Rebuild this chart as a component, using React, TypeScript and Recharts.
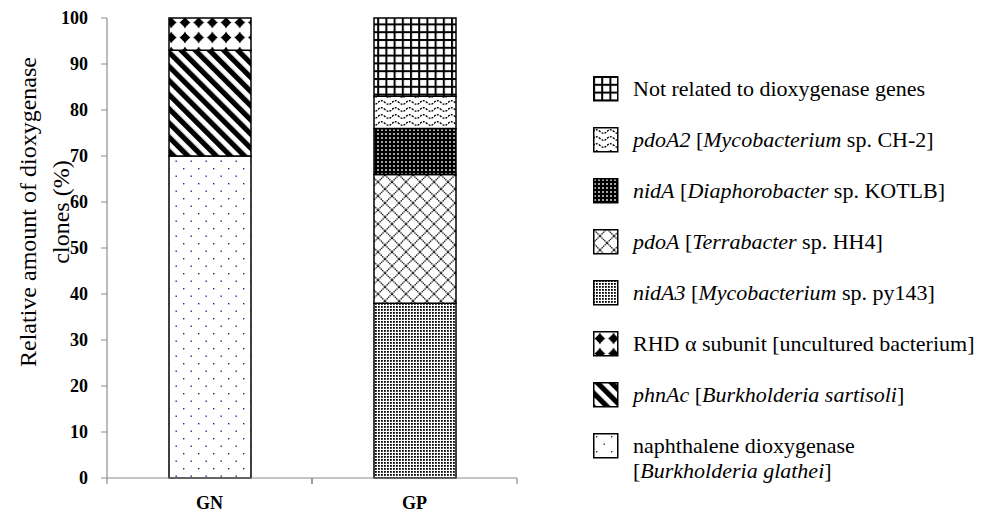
import { BarChart, Bar, XAxis, YAxis, Legend } from "recharts";

// Stacked share of dioxygenase clones in the GN and GP libraries (%)
const groups = ["GN", "GP"];
const naphthalene = [70, 0];
const phnAc = [23, 0];
const rhd = [7, 0];
const nidA3 = [0, 38];
const pdoA = [0, 28];
const nidA = [0, 10];
const pdoA2 = [0, 7];
const notRelated = [0, 17];

const yTicks = [0, 10, 20, 30, 40, 50, 60, 70, 80, 90, 100];

// bottom-up stacking order; "_" toggles italics, "\n" breaks a line
const seriesKeys = ["naphthalene", "phnAc", "rhd", "nidA3", "pdoA", "nidA", "pdoA2", "notRelated"];
const seriesValues = [naphthalene, phnAc, rhd, nidA3, pdoA, nidA, pdoA2, notRelated];
const seriesLabels = [
  "naphthalene dioxygenase\n[_Burkholderia glathei_]",
  "_phnAc_ [_Burkholderia sartisoli_]",
  "RHD α subunit [uncultured bacterium]",
  "_nidA3_ [_Mycobacterium_ sp. py143]",
  "_pdoA_ [_Terrabacter_ sp. HH4]",
  "_nidA_ [_Diaphorobacter_ sp. KOTLB]",
  "_pdoA2_ [_Mycobacterium_ sp. CH-2]",
  "Not related to dioxygenase genes",
];

const data = groups.map((group, i) => {
  const row: Record<string, string | number> = { group };
  seriesKeys.forEach((k, j) => (row[k] = seriesValues[j][i]));
  return row;
});

const FONT = "'Times New Roman', 'Liberation Serif', serif";
const AXIS = "#8c8c8c";
const X_TICK_SIZE = 6;
const X_TICK_MARGIN = 12;

function Patterns() {
  return (
    <defs>
      <pattern id="p-naphthalene" width="15" height="15" patternUnits="userSpaceOnUse">
        <rect width="15" height="15" fill="#fff" />
        <rect x="3" y="3" width="1.4" height="1.4" fill="#1c2a86" />
        <rect x="10.5" y="10.5" width="1.4" height="1.4" fill="#1c2a86" />
      </pattern>
      <pattern id="p-phnAc" width="10" height="10" patternUnits="userSpaceOnUse" patternTransform="rotate(-45)">
        <rect width="10" height="10" fill="#fff" />
        <rect width="5.2" height="10" fill="#000" />
      </pattern>
      <pattern id="p-rhd" width="13.7" height="15" patternUnits="userSpaceOnUse">
        <rect width="13.7" height="15" fill="#fff" />
        <path d="M6.85 1.5 Q8.2 5.4 12.3 7.5 Q8.2 9.6 6.85 13.5 Q5.5 9.6 1.4 7.5 Q5.5 5.4 6.85 1.5 Z" fill="#000" />
        <circle cx="6.85" cy="7.5" r="3.6" fill="#000" />
      </pattern>
      <pattern id="p-nidA3" width="3" height="3" patternUnits="userSpaceOnUse">
        <rect width="3" height="3" fill="#fff" />
        <rect width="1.8" height="1.8" fill="#000" />
      </pattern>
      <pattern id="p-pdoA" width="14" height="14" patternUnits="userSpaceOnUse">
        <rect width="14" height="14" fill="#fff" />
        <path d="M0 0 L14 14 M14 0 L0 14" stroke="#222" strokeWidth="1.3" strokeDasharray="1.4 0.6" />
      </pattern>
      <pattern id="p-nidA" width="4" height="4" patternUnits="userSpaceOnUse">
        <rect width="4" height="4" fill="#000" />
        <rect x="1.2" y="1.2" width="1.6" height="1.6" fill="#fff" />
      </pattern>
      <pattern id="p-pdoA2" width="14" height="7" patternUnits="userSpaceOnUse">
        <rect width="14" height="7" fill="#fff" />
        <path d="M0 4.5 Q3.5 1 7 4.5 T14 4.5" fill="none" stroke="#000" strokeWidth="1.3" strokeDasharray="2 1.2" />
      </pattern>
      <pattern id="p-notRelated" width="8.2" height="7.8" patternUnits="userSpaceOnUse">
        <rect width="8.2" height="7.8" fill="#fff" />
        <rect width="2" height="7.8" fill="#000" />
        <rect width="8.2" height="2" fill="#000" />
      </pattern>
    </defs>
  );
}

// category label plus Excel-style tick marks on the band edges
function GroupTick(props: any) {
  const { x, y, payload } = props;
  const half = payload.offset ?? 0;
  const axisY = y - X_TICK_SIZE - X_TICK_MARGIN;
  return (
    <g>
      <line x1={x - half} x2={x - half} y1={axisY} y2={axisY + X_TICK_SIZE} stroke={AXIS} strokeWidth={1.2} />
      <line x1={x + half} x2={x + half} y1={axisY} y2={axisY + X_TICK_SIZE} stroke={AXIS} strokeWidth={1.2} />
      <text x={x} y={y} dy="0.71em" textAnchor="middle" fontFamily={FONT} fontSize={18} fontWeight="bold" fill="#000">
        {payload.value}
      </text>
    </g>
  );
}

function RichLine({ text }: { text: string }) {
  const parts = text.split("_");
  return (
    <div>
      {parts.map((p, i) =>
        i % 2 === 1 ? (
          <i key={i}>{p}</i>
        ) : (
          <span key={i}>{p}</span>
        )
      )}
    </div>
  );
}

function PatternLegend() {
  const order = seriesKeys.map((k, i) => ({ key: k, label: seriesLabels[i] })).reverse();
  return (
    <div style={{ fontFamily: FONT, fontSize: 22, color: "#000" }}>
      {order.map((item) => (
        <div key={item.key} style={{ display: "flex", alignItems: "flex-start", height: 51 }}>
          <svg width="26" height="26" style={{ flex: "none", marginRight: 14 }}>
            <rect x="0.75" y="0.75" width="24" height="24" fill={`url(#p-${item.key})`} stroke="#000" strokeWidth="1.5" />
          </svg>
          <div style={{ lineHeight: "25px", whiteSpace: "nowrap" }}>
            {item.label.split("\n").map((line, i) => (
              <RichLine key={i} text={line} />
            ))}
          </div>
        </div>
      ))}
    </div>
  );
}

function YLabel() {
  return (
    <g fontFamily={FONT} fontSize={24} fill="#000">
      <text x={28} y={212} transform="rotate(-90 28 212)" textAnchor="middle" dominantBaseline="central">
        Relative amount of dioxygenase
      </text>
      <text x={61} y={212} transform="rotate(-90 61 212)" textAnchor="middle" dominantBaseline="central">
        clones (%)
      </text>
    </g>
  );
}

export default function App() {
  return (
    <div style={{ position: "absolute", left: 0, top: 0, background: "#fff" }}>
      <BarChart width={994} height={514} data={data} margin={{ top: 18, right: 477, bottom: 6, left: 47 }}>
        <Patterns />
        <XAxis
          dataKey="group"
          height={30}
          axisLine={{ stroke: AXIS, strokeWidth: 1.2 }}
          tickLine={false}
          tickSize={X_TICK_SIZE}
          tickMargin={X_TICK_MARGIN}
          tick={<GroupTick />}
        />
        <YAxis
          width={60}
          domain={[0, 100]}
          ticks={yTicks}
          interval={0}
          axisLine={{ stroke: AXIS, strokeWidth: 1.2 }}
          tickLine={{ stroke: AXIS }}
          tickSize={6}
          tickMargin={13}
          tick={{ fontFamily: FONT, fontSize: 18, fontWeight: "bold", fill: "#000" }}
          label={{ content: () => <YLabel /> }}
        />
        {seriesKeys.map((k) => (
          <Bar
            key={k}
            dataKey={k}
            stackId="s"
            barSize={82}
            fill={`url(#p-${k})`}
            stroke="#000"
            strokeWidth={1.5}
            isAnimationActive={false}
          />
        ))}
        <Legend
          layout="vertical"
          align="center"
          verticalAlign="middle"
          wrapperStyle={{ left: 593, top: 76, width: 400 }}
          content={() => <PatternLegend />}
        />
      </BarChart>
    </div>
  );
}
